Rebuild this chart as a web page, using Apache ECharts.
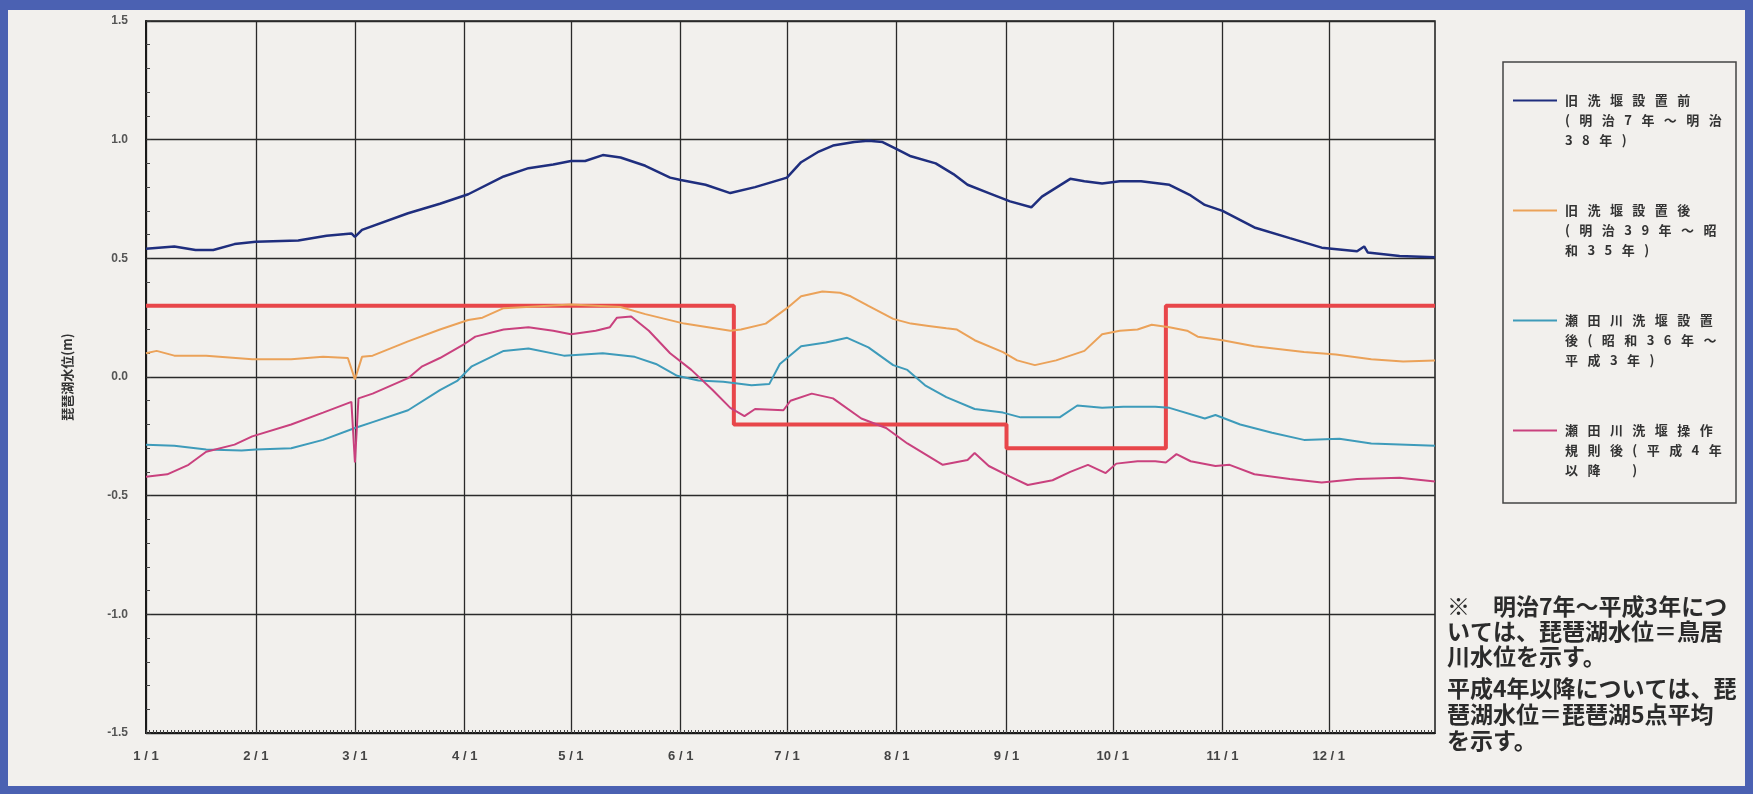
<!DOCTYPE html>
<html>
<head>
<meta charset="utf-8">
<script src="https://cdn.jsdelivr.net/npm/echarts/dist/echarts.min.js"></script>
<style>
html, body { margin: 0; padding: 0; }
#frame { position: absolute; left: 0; top: 0; width: 1753px; height: 794px; box-sizing: border-box;
  background: #f2f0ed; border-style: solid; border-color: #4b61b2; border-width: 10px 8px 8px 8px; }
#chart { position: absolute; left: 0; top: 0; width: 1753px; height: 794px; }
</style>
</head>
<body>
<div id="frame"></div>
<div id="chart"></div>
<script>
// 月の日数 -> 日付カテゴリ (1/1 .. 12/31)
var monthDays = [31, 28, 31, 30, 31, 30, 31, 31, 30, 31, 30, 31];
var days = [];
var monthStarts = [];
for (var m = 0; m < 12; m++) {
  monthStarts.push(days.length);
  for (var d = 1; d <= monthDays[m]; d++) {
    days.push((m + 1) + '/' + d);
  }
}

// 系列名
var nameS1 = '旧洗堰設置前(明治7年～明治38年)';
var nameS2 = '旧洗堰設置後(明治39年～昭和35年)';
var nameS3 = '瀬田川洗堰設置後(昭和36年～平成3年)';
var nameS4 = '瀬田川洗堰操作規則後(平成4年以降)';
var nameRule = '制限水位';

// 凡例の表示(3行)
var legendLines = {};
legendLines[nameS1] = ['旧洗堰設置前', '(明治7年～明治', '38年)'];
legendLines[nameS2] = ['旧洗堰設置後', '(明治39年～昭', '和35年)'];
legendLines[nameS3] = ['瀬田川洗堰設置', '後(昭和36年～', '平成3年)'];
legendLines[nameS4] = ['瀬田川洗堰操作', '規則後(平成4年', '以降　)'];

// [日(1/1=0), 水位m]
var s1 = [[0,0.54],[8,0.55],[14,0.535],[19,0.535],[25,0.56],[31,0.57],[43,0.575],[51,0.595],[58,0.605],[59,0.59],
  [61,0.62],[74,0.69],[83,0.73],[91,0.77],[101,0.845],[108,0.88],[115,0.895],[120,0.91],[124,0.91],[129,0.935],
  [134,0.925],[141,0.89],[148,0.84],[151,0.83],[158,0.81],[165,0.775],[172,0.80],[181,0.84],[185,0.905],[190,0.95],
  [194,0.975],[200,0.99],[204,0.995],[208,0.99],[212,0.96],[216,0.93],[223,0.90],[228,0.855],[232,0.81],[238,0.775],
  [244,0.74],[250,0.715],[253,0.76],[261,0.835],[265,0.825],[270,0.815],[275,0.825],[281,0.825],[289,0.81],[295,0.765],
  [299,0.725],[304,0.70],[313,0.63],[323,0.585],[332,0.545],[342,0.53],[344,0.55],[345,0.525],[354,0.51],[364,0.505]];

var s2 = [[0,0.10],[3,0.11],[8,0.09],[17,0.09],[30,0.075],[41,0.075],[50,0.085],[57,0.08],[59,-0.01],[61,0.085],
  [64,0.09],[74,0.15],[83,0.20],[91,0.24],[95,0.25],[101,0.29],[120,0.305],[134,0.295],[141,0.265],[152,0.225],
  [165,0.195],[168,0.20],[175,0.225],[181,0.29],[185,0.34],[191,0.36],[196,0.355],[199,0.34],[204,0.30],[211,0.245],
  [216,0.225],[221,0.215],[226,0.205],[229,0.20],[234,0.155],[242,0.105],[246,0.07],[251,0.05],[257,0.07],[261,0.09],
  [265,0.11],[270,0.18],[275,0.195],[280,0.20],[284,0.22],[289,0.21],[294,0.195],[297,0.17],[304,0.155],[313,0.13],
  [327,0.105],[336,0.095],[346,0.075],[355,0.065],[364,0.07]];

var s3 = [[0,-0.285],[8,-0.29],[17,-0.305],[27,-0.31],[31,-0.305],[41,-0.30],[50,-0.265],[59,-0.215],[64,-0.19],[74,-0.14],
  [83,-0.055],[88,-0.015],[92,0.045],[101,0.11],[108,0.12],[118,0.09],[129,0.10],[138,0.085],[144,0.055],[150,0.005],
  [156,-0.015],[163,-0.02],[171,-0.035],[176,-0.03],[179,0.055],[185,0.13],[192,0.145],[198,0.165],[204,0.125],[211,0.05],
  [215,0.03],[220,-0.035],[226,-0.085],[234,-0.135],[242,-0.15],[247,-0.17],[258,-0.17],[263,-0.12],[270,-0.13],[276,-0.125],
  [285,-0.125],[289,-0.13],[299,-0.175],[302,-0.16],[309,-0.20],[318,-0.235],[327,-0.265],[337,-0.26],[346,-0.28],[364,-0.29]];

var s4 = [[0,-0.42],[6,-0.41],[12,-0.37],[17,-0.315],[25,-0.285],[30,-0.25],[41,-0.20],[50,-0.15],[58,-0.105],[59,-0.36],
  [60,-0.09],[64,-0.07],[74,-0.005],[78,0.045],[83,0.08],[90,0.14],[93,0.17],[101,0.20],[108,0.21],[115,0.195],
  [120,0.18],[127,0.195],[131,0.21],[133,0.25],[137,0.255],[142,0.195],[148,0.10],[154,0.03],[160,-0.055],[165,-0.13],
  [169,-0.165],[172,-0.135],[180,-0.14],[182,-0.10],[188,-0.07],[194,-0.09],[202,-0.175],[209,-0.215],[215,-0.28],[225,-0.37],
  [232,-0.35],[234,-0.32],[238,-0.375],[244,-0.42],[249,-0.455],[256,-0.435],[261,-0.40],[266,-0.37],[271,-0.405],[274,-0.365],
  [280,-0.355],[285,-0.355],[288,-0.36],[291,-0.325],[295,-0.355],[302,-0.375],[306,-0.37],[313,-0.41],[323,-0.43],[332,-0.445],
  [342,-0.43],[354,-0.425],[364,-0.44]];

// 制限水位 (6/16～8/31: -0.2, 9/1～10/15: -0.3, 他: +0.3)
var rule = [[0,0.3],[166,-0.2],[243,-0.3],[288,0.3],[364,0.3]];

var yTicks = [-1.5, -1.0, -0.5, 0.0, 0.5, 1.0, 1.5];

var noteText1 = '※　明治7年～平成3年につ\nいては、琵琶湖水位＝鳥居\n川水位を示す。';
var noteText2 = '平成4年以降については、琵\n琶湖水位＝琵琶湖5点平均\nを示す。';

var SP = '\u2002 ';
function spaced(s) { return s.split('').join(SP); }
function isMonthStart(i) { return monthStarts.indexOf(i) >= 0; }

var dom = document.getElementById('chart');
var myChart = echarts.init(dom, null, { renderer: 'canvas' });

var option = {
  animation: false,
  backgroundColor: 'transparent',
  textStyle: { fontFamily: 'Noto Sans CJK JP' },
  title: [{
    text: noteText1,
    left: 1442,
    top: 589,
    textStyle: { fontSize: 23, fontWeight: 'bold', color: '#2b2b2b', lineHeight: 25 }
  }, {
    text: noteText2,
    left: 1442,
    top: 670,
    textStyle: { fontSize: 23, fontWeight: 'bold', color: '#2b2b2b', lineHeight: 26 }
  }],
  // 凡例の枠
  graphic: [{
    type: 'rect',
    shape: { x: 1503, y: 62, width: 233, height: 441 },
    style: { fill: 'none', stroke: '#444', lineWidth: 1.5 }
  }],
  legend: {
    orient: 'vertical',
    left: 1513,
    top: 54,
    data: [nameS1, nameS2, nameS3, nameS4],
    icon: 'rect',
    itemWidth: 44,
    itemHeight: 2,
    itemGap: 17,
    padding: 0,
    selectedMode: false,
    // 上に空行2つ -> 1行目がアイコンの高さに来る
    formatter: function (name) {
      return '\n\n' + legendLines[name].map(spaced).join('\n');
    },
    textStyle: { fontSize: 13, fontWeight: 'bold', color: '#333', lineHeight: 20, padding: [-20, 0, -20, 3] }
  },
  grid: {
    left: 146, right: 318, top: 21, bottom: 61,
    show: true, borderColor: '#1a1a1a', borderWidth: 1.5
  },
  xAxis: {
    type: 'category',
    data: days,
    boundaryGap: false,
    axisLine: { onZero: false, lineStyle: { color: '#1a1a1a', width: 2 } },
    axisTick: { show: true, interval: 0, inside: true, length: 3, lineStyle: { color: '#444', width: 1 } },
    axisLabel: {
      interval: function (i) { return isMonthStart(i); },
      formatter: function (v) { return v.replace('/', ' / '); },
      color: '#444', fontSize: 13, fontWeight: 'bold', margin: 17, fontFamily: 'Liberation Sans'
    },
    splitLine: {
      show: true,
      interval: function (i) { return isMonthStart(i); },
      lineStyle: { color: '#2a2a2a', width: 1.3 }
    }
  },
  yAxis: {
    type: 'value',
    min: yTicks[0],
    max: yTicks[yTicks.length - 1],
    interval: 0.5,
    name: '琵琶湖水位(m)',
    nameLocation: 'middle',
    nameGap: 72,
    nameRotate: 90,
    nameTextStyle: { fontSize: 13, color: '#333', fontWeight: 'bold' },
    axisLine: { show: true, lineStyle: { color: '#1a1a1a', width: 2 } },
    axisTick: { show: true, inside: true, length: 5, lineStyle: { color: '#333' } },
    minorTick: { show: true, splitNumber: 5, length: 4, lineStyle: { color: '#444' } },
    axisLabel: {
      formatter: function (v) { return v.toFixed(1); },
      color: '#555', fontSize: 12, fontWeight: 'bold', margin: 18, fontFamily: 'Liberation Sans'
    },
    splitLine: { show: true, lineStyle: { color: '#2a2a2a', width: 1.3 } }
  },
  series: [{
    name: nameRule, type: 'line', data: rule, step: 'end', symbol: 'none',
    color: '#e8464a', lineStyle: { width: 4, color: '#e8464a' }, z: 1
  }, {
    name: nameS1, type: 'line', data: s1, symbol: 'none',
    color: '#1f2e7e', lineStyle: { width: 2.5, color: '#1f2e7e' }, z: 3
  }, {
    name: nameS2, type: 'line', data: s2, symbol: 'none',
    color: '#eba259', lineStyle: { width: 2, color: '#eba259' }, z: 3
  }, {
    name: nameS3, type: 'line', data: s3, symbol: 'none',
    color: '#3e9bba', lineStyle: { width: 2, color: '#3e9bba' }, z: 3
  }, {
    name: nameS4, type: 'line', data: s4, symbol: 'none',
    color: '#c9417e', lineStyle: { width: 2, color: '#c9417e' }, z: 3
  }]
};

myChart.setOption(option);
</script>
</body>
</html>
